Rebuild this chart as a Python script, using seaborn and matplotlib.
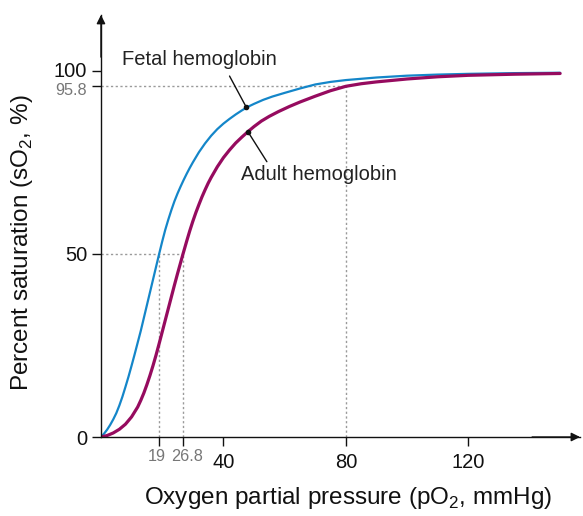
import pandas as pd
import seaborn as sns
import matplotlib.pyplot as plt
from matplotlib.transforms import ScaledTranslation

# Oxygen dissociation curves
fetal_po2 = [0, 1, 2, 3, 4, 5, 6, 7, 8, 9, 10, 11, 12, 13, 14, 15, 16, 17, 18, 19, 20, 21, 22, 23, 24, 25,
             26, 27, 28, 29, 30, 32, 34, 36, 38, 40, 42, 44, 46, 48, 50, 53, 56, 60, 65, 70, 75, 80, 90,
             100, 110, 120, 135, 150]
fetal_so2 = [0, 0.9, 2.0, 3.3, 4.8, 6.5, 8.6, 11, 13.7, 16.5, 19.5, 22.6, 25.8, 29, 32.5, 36, 39.5, 43,
             46.5, 50, 53.4, 56.6, 59.4, 62, 64.4, 66.5, 68.4, 70.2, 71.9, 73.5, 75, 77.8, 80.2, 82.3, 84.1,
             85.6, 86.9, 88.1, 89.2, 90.2, 91.0, 92.1, 93.0, 94.0, 95.2, 96.3, 97.0, 97.5, 98.2, 98.7, 99.0,
             99.2, 99.4, 99.5]
adult_po2 = [0, 2, 4, 6, 8, 10, 12, 13, 14, 15, 16, 17, 18, 19, 20, 21, 22, 23, 24, 25, 26, 26.8, 28, 29,
             30, 31, 32, 33, 34, 35, 36, 38, 40, 42, 44, 46, 48, 50, 52.4, 55, 58, 61.6, 65, 70, 75, 80, 85,
             90, 95, 100, 110, 120, 135, 150]
adult_so2 = [0, 0.4, 1.1, 2.1, 3.5, 5.5, 8.2, 10.0, 12.0, 14.3, 16.8, 19.5, 22.4, 25.5, 28.7, 31.9, 35.1,
             38.3, 41.5, 44.6, 47.6, 50, 53.5, 56.3, 58.9, 61.3, 63.5, 65.6, 67.5, 69.3, 70.9, 73.8, 76.3,
             78.4, 80.3, 81.9, 83.4, 84.8, 86.3, 87.6, 88.9, 90.3, 91.5, 93.1, 94.6, 95.8, 96.5, 97.0, 97.4,
             97.8, 98.4, 98.8, 99.1, 99.3]

# Reference values marked with dotted lines
p50_fetal = 19
p50_adult = 26.8
arterial_po2 = 80
arterial_so2 = 95.8

x_ticks = [19, 26.8, 40, 80, 120]
x_labels = ["19", "26.8", "40", "80", "120"]
y_ticks = [0, 50, 95.8, 100]
y_labels = ["0", "50", "95.8", "100"]
minor_labels = ["19", "26.8", "95.8"]

fetal_color = "#1486c9"
adult_color = "#960b5f"
ref_color = "#9a9a9a"
ink = "#111111"

sns.set_theme(style="ticks")
plt.rcParams['font.family'] = ['Liberation Sans', 'DejaVu Sans']

fig = plt.figure(figsize=(5.83, 5.16), dpi=100)
ax = fig.add_axes([0.1732, 0.1531, 0.8217, 0.818])

fetal = pd.DataFrame({"po2": fetal_po2, "so2": fetal_so2})
adult = pd.DataFrame({"po2": adult_po2, "so2": adult_so2})

# dotted guide lines
dots = dict(color=ref_color, lw=1, ls=(0, (1.6, 1.8)), zorder=1)
ax.plot([0, arterial_po2], [arterial_so2, arterial_so2], **dots)
ax.plot([arterial_po2, arterial_po2], [0, arterial_so2], **dots)
ax.plot([0, p50_adult], [50, 50], **dots)
ax.plot([p50_fetal, p50_fetal], [0, 50], **dots)
ax.plot([p50_adult, p50_adult], [0, 50], **dots)

sns.lineplot(data=fetal, x="po2", y="so2", color=fetal_color, lw=1.6, sort=False, ax=ax)
sns.lineplot(data=adult, x="po2", y="so2", color=adult_color, lw=2.3, sort=False, ax=ax)

ax.set_xlim(0, 156.5)
ax.set_ylim(0, 115.3)
sns.despine(ax=ax)
for s in ["left", "bottom"]:
    ax.spines[s].set_linewidth(1)
    ax.spines[s].set_color(ink)

# arrow heads on the axes
arrow = dict(arrowstyle="-|>", color=ink, lw=1, mutation_scale=13, shrinkA=0, shrinkB=0)
ax.annotate("", xy=(1, 0), xytext=(0.9, 0), xycoords="axes fraction", arrowprops=arrow, annotation_clip=False)
ax.annotate("", xy=(0, 1), xytext=(0, 0.9), xycoords="axes fraction", arrowprops=arrow, annotation_clip=False)

ax.set_xticks(x_ticks, x_labels)
ax.set_yticks(y_ticks, y_labels)
ax.tick_params(axis="both", direction="out", length=6.8, width=1, colors=ink, labelsize=14.5)
ax.tick_params(axis="x", pad=5)
ax.tick_params(axis="y", pad=3)
for tl in ax.get_xticklabels() + ax.get_yticklabels():
    if tl.get_text() in minor_labels:
        tl.set_color("#777777")
        tl.set_fontsize(11.7)
for tick, lab in zip(ax.xaxis.get_major_ticks(), x_labels):
    if lab in minor_labels:
        tick.set_pad(2)

def nudge(label, dx, dy):
    label.set_transform(label.get_transform() + ScaledTranslation(dx / 72, dy / 72, fig.dpi_scale_trans))

xl = ax.get_xticklabels()
nudge(xl[0], -2, 0)
nudge(xl[1], 3, 0)
yl = ax.get_yticklabels()
nudge(yl[2], 0, -2)
nudge(yl[3], 0, 1)

ax.set_xlabel(r"Oxygen partial pressure (pO$_\mathregular{2}$, mmHg)", fontsize=17.5, color=ink)
ax.set_ylabel(r"Percent saturation (sO$_\mathregular{2}$, %)", fontsize=17.5, color=ink)
ax.xaxis.set_label_coords(0.517, -0.114)
ax.yaxis.set_label_coords(-0.138, 0.46)

# curve labels with pointer lines
ax.text(32.3, 103, "Fetal hemoglobin", fontsize=14.5, color="#222222", ha="center", va="center")
ax.text(71.3, 71.6, "Adult hemoglobin", fontsize=14.5, color="#222222", ha="center", va="center")
ax.plot([47.4, 42.0], [90.2, 98.6], color=ink, lw=1)
ax.plot([48.0, 54.2], [83.4, 75.2], color=ink, lw=1)
ax.plot([47.4, 48.0], [90.2, 83.4], "o", color=ink, ms=3, zorder=5)

fig.savefig("out.png", dpi=100)
